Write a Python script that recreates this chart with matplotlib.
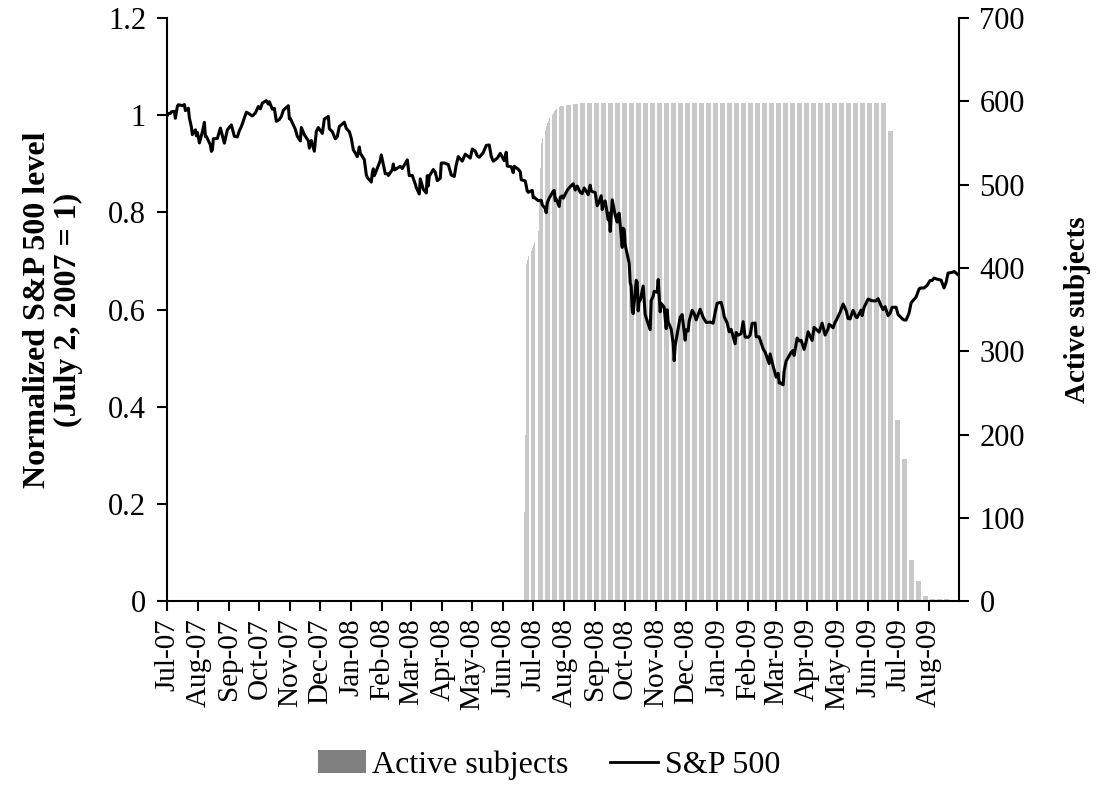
import matplotlib
matplotlib.use('Agg')
import matplotlib.pyplot as plt
import matplotlib.dates as mdates
from matplotlib.patches import Patch
from matplotlib.lines import Line2D
from matplotlib.ticker import FuncFormatter
import pandas as pd

plt.rcParams['font.family'] = ['Liberation Serif', 'DejaVu Serif']

# S&P 500 closes (normalized to July 2, 2007 below)
sp_dates = [
    '2007-07-02', '2007-07-03', '2007-07-05', '2007-07-06', '2007-07-09', '2007-07-10', '2007-07-12',
    '2007-07-13', '2007-07-17', '2007-07-19', '2007-07-20', '2007-07-23', '2007-07-24', '2007-07-26',
    '2007-07-27', '2007-07-30', '2007-07-31', '2007-08-01', '2007-08-03', '2007-08-06', '2007-08-08',
    '2007-08-09', '2007-08-10', '2007-08-14', '2007-08-15', '2007-08-16', '2007-08-17', '2007-08-21',
    '2007-08-24', '2007-08-28', '2007-08-31', '2007-09-04', '2007-09-07', '2007-09-10', '2007-09-12',
    '2007-09-14', '2007-09-18', '2007-09-19', '2007-09-21', '2007-09-25', '2007-09-28', '2007-10-01',
    '2007-10-03', '2007-10-05', '2007-10-09', '2007-10-11', '2007-10-12', '2007-10-15', '2007-10-17',
    '2007-10-19', '2007-10-22', '2007-10-24', '2007-10-26', '2007-10-31', '2007-11-01', '2007-11-02',
    '2007-11-07', '2007-11-09', '2007-11-12', '2007-11-13', '2007-11-16', '2007-11-20', '2007-11-21',
    '2007-11-23', '2007-11-26', '2007-11-28', '2007-11-30', '2007-12-04', '2007-12-06', '2007-12-10',
    '2007-12-11', '2007-12-14', '2007-12-17', '2007-12-19', '2007-12-21', '2007-12-26', '2007-12-28',
    '2007-12-31',
    '2008-01-02', '2008-01-04', '2008-01-08', '2008-01-10', '2008-01-11', '2008-01-15', '2008-01-17',
    '2008-01-18', '2008-01-22', '2008-01-23', '2008-01-24', '2008-01-25', '2008-01-28', '2008-01-31',
    '2008-02-01', '2008-02-05', '2008-02-07', '2008-02-08', '2008-02-12', '2008-02-13', '2008-02-14',
    '2008-02-15', '2008-02-20', '2008-02-22', '2008-02-27', '2008-02-29', '2008-03-03', '2008-03-06',
    '2008-03-07', '2008-03-10', '2008-03-11', '2008-03-14', '2008-03-17', '2008-03-18', '2008-03-19',
    '2008-03-20', '2008-03-24', '2008-03-26', '2008-03-28', '2008-03-31', '2008-04-01', '2008-04-04',
    '2008-04-08', '2008-04-11', '2008-04-14', '2008-04-16', '2008-04-18', '2008-04-22', '2008-04-25',
    '2008-04-30', '2008-05-02', '2008-05-05', '2008-05-07', '2008-05-09', '2008-05-13', '2008-05-16',
    '2008-05-19', '2008-05-21', '2008-05-23', '2008-05-27', '2008-05-30', '2008-06-03', '2008-06-05',
    '2008-06-06', '2008-06-10', '2008-06-12', '2008-06-13', '2008-06-17', '2008-06-19', '2008-06-20',
    '2008-06-24', '2008-06-26', '2008-06-27', '2008-07-01', '2008-07-02', '2008-07-03', '2008-07-07',
    '2008-07-10', '2008-07-11', '2008-07-14', '2008-07-15', '2008-07-16', '2008-07-18', '2008-07-22',
    '2008-07-23', '2008-07-24', '2008-07-25', '2008-07-28', '2008-07-29', '2008-07-31', '2008-08-01',
    '2008-08-05', '2008-08-08', '2008-08-11', '2008-08-13', '2008-08-15', '2008-08-18', '2008-08-20',
    '2008-08-22', '2008-08-26', '2008-08-28', '2008-08-29', '2008-09-02', '2008-09-04', '2008-09-05',
    '2008-09-08', '2008-09-09', '2008-09-11', '2008-09-12', '2008-09-15', '2008-09-16', '2008-09-17',
    '2008-09-18', '2008-09-19', '2008-09-22', '2008-09-24', '2008-09-25', '2008-09-26', '2008-09-29',
    '2008-09-30', '2008-10-01', '2008-10-02', '2008-10-03', '2008-10-06', '2008-10-07', '2008-10-08',
    '2008-10-09', '2008-10-10', '2008-10-13', '2008-10-14', '2008-10-15', '2008-10-16', '2008-10-17',
    '2008-10-20', '2008-10-22', '2008-10-24', '2008-10-27', '2008-10-28', '2008-10-30', '2008-10-31',
    '2008-11-03', '2008-11-04', '2008-11-06', '2008-11-07', '2008-11-10', '2008-11-12', '2008-11-13',
    '2008-11-14', '2008-11-17', '2008-11-19', '2008-11-20', '2008-11-21', '2008-11-24', '2008-11-26',
    '2008-11-28', '2008-12-01', '2008-12-02', '2008-12-04', '2008-12-05', '2008-12-08', '2008-12-10',
    '2008-12-12', '2008-12-16', '2008-12-19', '2008-12-22', '2008-12-26', '2008-12-29', '2008-12-31',
    '2009-01-02', '2009-01-06', '2009-01-08', '2009-01-09', '2009-01-12', '2009-01-14', '2009-01-16',
    '2009-01-20', '2009-01-21', '2009-01-23', '2009-01-26', '2009-01-28', '2009-01-30', '2009-02-02',
    '2009-02-04', '2009-02-06', '2009-02-09', '2009-02-10', '2009-02-13', '2009-02-17', '2009-02-19',
    '2009-02-20', '2009-02-23', '2009-02-24', '2009-02-27', '2009-03-02', '2009-03-04', '2009-03-05',
    '2009-03-06', '2009-03-09', '2009-03-10', '2009-03-12', '2009-03-13', '2009-03-17', '2009-03-19',
    '2009-03-20', '2009-03-23', '2009-03-25', '2009-03-27', '2009-03-30', '2009-04-01', '2009-04-03',
    '2009-04-07', '2009-04-09', '2009-04-14', '2009-04-17', '2009-04-20', '2009-04-23', '2009-04-24',
    '2009-04-28', '2009-04-30', '2009-05-01', '2009-05-05', '2009-05-08', '2009-05-11', '2009-05-13',
    '2009-05-15', '2009-05-18', '2009-05-21', '2009-05-22', '2009-05-26', '2009-05-27', '2009-05-29',
    '2009-06-02', '2009-06-04', '2009-06-05', '2009-06-08', '2009-06-10', '2009-06-12', '2009-06-15',
    '2009-06-17', '2009-06-19', '2009-06-22', '2009-06-24', '2009-06-26', '2009-06-30', '2009-07-02',
    '2009-07-07', '2009-07-08', '2009-07-10', '2009-07-13', '2009-07-15', '2009-07-17', '2009-07-20',
    '2009-07-23', '2009-07-24', '2009-07-28', '2009-07-31', '2009-08-03', '2009-08-05', '2009-08-07',
    '2009-08-10', '2009-08-14', '2009-08-17', '2009-08-19', '2009-08-21', '2009-08-25', '2009-08-27',
    '2009-08-28', '2009-08-31',
]
sp_close = [
    1519.43, 1524.87, 1525.40, 1530.44, 1531.85, 1510.12, 1547.70,
    1552.50, 1549.52, 1553.08, 1534.10, 1541.57, 1511.04, 1482.66,
    1458.95, 1473.91, 1455.27, 1465.81, 1433.06, 1467.67, 1497.49,
    1453.09, 1453.64, 1426.54, 1406.70, 1411.27, 1445.94, 1447.12,
    1479.37, 1432.36, 1473.99, 1489.42, 1453.55, 1451.70, 1471.56,
    1484.25, 1519.78, 1529.03, 1525.75, 1517.21, 1526.75, 1547.04,
    1539.59, 1557.59, 1565.15, 1554.41, 1561.80, 1538.53, 1541.24,
    1500.63, 1506.33, 1515.88, 1535.28, 1549.38, 1508.44, 1509.65,
    1475.62, 1453.70, 1439.18, 1481.05, 1458.74, 1439.70, 1416.77,
    1440.70, 1407.22, 1469.02, 1481.14, 1462.79, 1507.34, 1515.96,
    1477.65, 1467.95, 1445.90, 1453.00, 1484.46, 1497.66, 1478.49,
    1468.36,
    1447.16, 1411.63, 1390.19, 1420.33, 1401.02, 1380.95, 1333.25,
    1325.19, 1310.50, 1338.60, 1352.07, 1330.61, 1353.97, 1378.55,
    1395.42, 1336.64, 1336.91, 1331.29, 1348.86, 1367.21, 1348.86,
    1349.99, 1360.03, 1353.11, 1380.02, 1330.63, 1331.34, 1304.34,
    1293.37, 1273.37, 1320.65, 1288.14, 1276.60, 1330.74, 1298.42,
    1329.51, 1349.88, 1341.13, 1315.22, 1322.70, 1370.18, 1370.40,
    1365.54, 1332.83, 1328.32, 1364.71, 1390.33, 1375.94, 1397.84,
    1385.59, 1413.90, 1407.49, 1392.57, 1388.28, 1403.04, 1425.35,
    1426.63, 1390.71, 1375.93, 1385.35, 1400.38, 1377.65, 1404.05,
    1360.68, 1358.44, 1339.87, 1360.03, 1350.93, 1342.83, 1317.93,
    1314.29, 1283.15, 1278.38, 1284.91, 1261.52, 1262.90, 1252.31,
    1253.39, 1239.49, 1228.30, 1214.91, 1245.36, 1260.68, 1282.19,
    1284.26, 1252.54, 1257.76, 1234.37, 1263.20, 1267.38, 1260.31,
    1284.88, 1296.32, 1305.32, 1285.83, 1298.20, 1278.60, 1274.54,
    1292.20, 1271.51, 1300.68, 1282.83, 1277.58, 1236.83, 1242.31,
    1267.79, 1224.51, 1249.05, 1251.70, 1192.70, 1213.60, 1156.39,
    1206.51, 1255.08, 1207.09, 1185.55, 1209.18, 1213.27, 1106.42,
    1166.36, 1161.06, 1114.28, 1099.23, 1056.89, 996.23, 984.94,
    909.92, 899.22, 1003.35, 998.01, 907.84, 946.43, 940.55,
    985.40, 896.78, 876.77, 848.92, 940.51, 954.09, 968.75,
    966.30, 1005.75, 904.88, 930.99, 919.21, 852.30, 911.29,
    873.29, 850.75, 806.58, 752.44, 800.03, 851.81, 887.68,
    896.24, 816.21, 848.81, 845.22, 876.07, 909.70, 899.24,
    879.73, 913.18, 887.88, 871.63, 872.80, 869.42, 903.25,
    931.80, 934.70, 909.73, 890.35, 870.26, 842.62, 850.12,
    805.22, 840.24, 831.95, 836.57, 874.09, 825.88, 825.44,
    832.23, 868.60, 869.89, 827.16, 826.84, 789.17, 778.94,
    770.05, 743.33, 773.14, 735.09, 700.82, 712.87, 682.55,
    683.38, 676.53, 719.60, 750.74, 756.55, 778.12, 784.04,
    768.54, 822.92, 813.88, 815.94, 787.53, 811.08, 842.50,
    815.55, 856.56, 841.50, 869.60, 832.39, 851.92, 866.23,
    855.16, 872.81, 877.52, 903.80, 929.23, 909.24, 883.92,
    882.88, 909.71, 888.33, 887.00, 910.33, 893.06, 919.14,
    944.74, 942.46, 940.09, 939.14, 939.15, 946.21, 923.72,
    911.97, 921.23, 893.04, 900.94, 918.90, 919.32, 896.42,
    881.03, 879.56, 879.13, 901.05, 932.68, 940.38, 951.13,
    976.29, 979.26, 979.62, 987.48, 1002.63, 1002.72, 1010.48,
    1007.10, 1004.09, 979.73, 996.46, 1026.13, 1028.12, 1030.98,
    1028.93, 1020.62,
]

# active subjects: daily during enrolment, then one value per week
ramp_dates = [
    '2008-06-23', '2008-06-24', '2008-06-25', '2008-06-26', '2008-06-27',
    '2008-06-30', '2008-07-01', '2008-07-02', '2008-07-03',
    '2008-07-07', '2008-07-08', '2008-07-09', '2008-07-10', '2008-07-11',
    '2008-07-14', '2008-07-15', '2008-07-16', '2008-07-17', '2008-07-18',
    '2008-07-21', '2008-07-22', '2008-07-23', '2008-07-24', '2008-07-25',
    '2008-07-28', '2008-07-29', '2008-07-30', '2008-07-31', '2008-08-01',
]
ramp_subjects = [
    107, 200, 405, 410, 414,
    420, 424, 428, 431,
    445, 480, 520, 550, 556,
    566, 570, 574, 577, 580,
    584, 586, 588, 590, 591,
    593, 594, 594, 595, 595,
]
first_week = '2008-08-04'
weekly_subjects = [596, 597] + [598] * 44 + [564, 217, 171, 50, 24, 6, 3, 3, 3]

fig = plt.figure(figsize=(10.98, 7.87), dpi=100)
ax1 = fig.add_axes([0.152, 0.236, 0.721, 0.741])
ax2 = ax1.twinx()

# bars
bar_dates = list(pd.to_datetime(ramp_dates))
bar_vals = list(ramp_subjects)
weeks = pd.date_range(first_week, periods=len(weekly_subjects), freq='W-MON')
for ws, v in zip(weeks, weekly_subjects):
    for d in pd.bdate_range(ws, periods=5):
        bar_dates.append(d)
        bar_vals.append(v)
ax2.bar(bar_dates, bar_vals, width=1.0, color='#c8c8c8', linewidth=0)

# line
norm = [v / sp_close[0] for v in sp_close]
ax1.plot(pd.to_datetime(sp_dates), norm, color='black', lw=2.2)

ax1.set_zorder(ax2.get_zorder() + 1)
ax1.patch.set_visible(False)

ax1.set_ylim(0, 1.2)
ax2.set_ylim(0, 700)
ax1.set_yticks([0, 0.2, 0.4, 0.6, 0.8, 1.0, 1.2])
ax1.yaxis.set_major_formatter(FuncFormatter(lambda v, p: '%g' % v))
ax2.set_yticks(range(0, 701, 100))

ax1.set_xlim(pd.Timestamp('2007-07-01 12:00'), pd.Timestamp('2009-08-31 12:00'))
ax1.xaxis.set_major_locator(mdates.MonthLocator(bymonthday=2))
ax1.xaxis.set_major_formatter(mdates.DateFormatter('%b-%y'))
for lbl in ax1.get_xticklabels():
    lbl.set_rotation(90)

for s in ['top', 'right']:
    ax1.spines[s].set_visible(False)
for s in ['top', 'left', 'bottom']:
    ax2.spines[s].set_visible(False)
ax1.spines['left'].set_linewidth(1.5)
ax1.spines['bottom'].set_linewidth(1.5)
ax2.spines['right'].set_linewidth(1.5)

ax1.tick_params(axis='y', direction='out', length=7, width=1.5, labelsize=22, pad=8)
ax1.tick_params(axis='x', direction='out', length=7, width=1.5, labelsize=21, pad=5)
ax2.tick_params(axis='y', direction='out', length=7, width=1.5, labelsize=22, pad=8)

ax1.set_ylabel('Normalized S&P 500 level\n(July 2, 2007 = 1)', fontsize=23,
               fontweight='bold', labelpad=18, linespacing=1.1)
ax2.set_ylabel('Active subjects', fontsize=21, fontweight='bold', labelpad=28)

handles = [Patch(facecolor='#808080', edgecolor='none'),
           Line2D([], [], color='black', lw=2)]
fig.legend(handles, ['Active subjects', 'S&P 500'], loc='center',
           bbox_to_anchor=(0.5, 0.028), ncol=2, frameon=False, fontsize=23,
           handlelength=1.5, handletextpad=0.2, columnspacing=1.3)

fig.savefig('out.png', dpi=100)
